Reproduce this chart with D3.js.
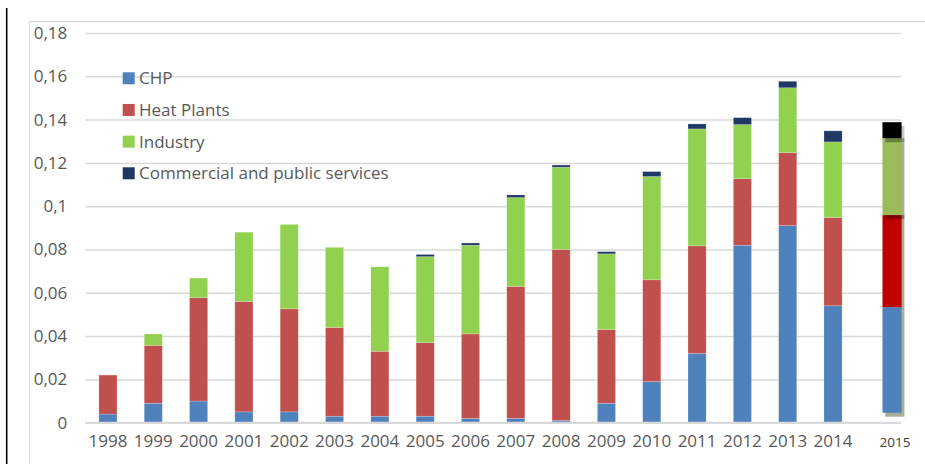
<!DOCTYPE html>
<html>
<head>
<meta charset="utf-8">
<script src="https://cdn.jsdelivr.net/npm/d3@7"></script>
<style>
  html, body { margin: 0; padding: 0; background: #fff; }
  svg { display: block; }
  text { font-family: "Open Sans", "Liberation Sans", sans-serif; }
</style>
</head>
<body>
<svg id="chart" width="925" height="464"></svg>
<script>
// ---- data ----
const years = ["1998","1999","2000","2001","2002","2003","2004","2005","2006","2007","2008","2009","2010","2011","2012","2013","2014"];
const chp        = [0.004, 0.009, 0.010, 0.005, 0.005, 0.003, 0.003, 0.003, 0.002, 0.002, 0.001, 0.009, 0.019, 0.032, 0.082, 0.091, 0.054];
const heatPlants = [0.018, 0.0267, 0.0477, 0.051, 0.0476, 0.041, 0.030, 0.034, 0.039, 0.061, 0.079, 0.034, 0.047, 0.0497, 0.0307, 0.0337, 0.0407];
const industry   = [0, 0.0053, 0.0091, 0.032, 0.039, 0.037, 0.039, 0.0397, 0.041, 0.041, 0.038, 0.035, 0.0477, 0.054, 0.025, 0.030, 0.035];
const commercial = [0, 0, 0, 0, 0, 0, 0, 0.001, 0.001, 0.0012, 0.001, 0.001, 0.0023, 0.0023, 0.0032, 0.003, 0.0051];
// 2015 bar (pasted-in picture): starts slightly above zero
const year2015 = "2015";
const base2015 = 0.0046;
const values2015 = [0.0488, 0.0425, 0.0355, 0.0074]; // CHP, Heat Plants, Industry, Commercial
const seriesNames = ["CHP", "Heat Plants", "Industry", "Commercial and public services"];
const yTicks = [0, 0.02, 0.04, 0.06, 0.08, 0.1, 0.12, 0.14, 0.16, 0.18];
const yTickLabels = ["0", "0,02", "0,04", "0,06", "0,08", "0,1", "0,12", "0,14", "0,16", "0,18"];

// ---- styles ----
const colors = ["#4f81bd", "#c0504d", "#92d050", "#1f3864"];
const colors2015 = ["#4f81bd", "#c00000", "#9bbb59", "#000000"];
const textColor = "#595959";
const gridColor = "#d9d9d9";
const fontSize = 17;

const svg = d3.select("#chart");
const plot = { left: 85.3, right: 901, top: 33, bottom: 422.7 };

const allYears = years.concat([year2015]);
const x = d3.scaleBand().domain(allYears).range([plot.left, plot.right]).paddingInner(0.6).paddingOuter(0.3);
const y = d3.scaleLinear().domain([0, 0.18]).range([plot.bottom, plot.top]);

// outer frame lines
svg.append("line").attr("x1", 6.7).attr("x2", 6.7).attr("y1", 8).attr("y2", 464)
  .attr("stroke", "#000").attr("stroke-width", 1.6);
svg.append("line").attr("x1", 29.3).attr("x2", 29.3).attr("y1", 21.7).attr("y2", 464)
  .attr("stroke", gridColor).attr("stroke-width", 1);
svg.append("line").attr("x1", 29.3).attr("x2", 925).attr("y1", 21.7).attr("y2", 21.7)
  .attr("stroke", gridColor).attr("stroke-width", 1.2);

// gridlines
const yAxis = d3.axisLeft(y).tickValues(yTicks).tickSize(-(plot.right - plot.left))
  .tickFormat((d, i) => yTickLabels[i]).tickPadding(18);
const gy = svg.append("g").attr("transform", `translate(${plot.left},0)`).call(yAxis);
gy.select(".domain").remove();
gy.selectAll(".tick line").attr("stroke", gridColor).attr("stroke-width", 1.5);
gy.selectAll(".tick text").attr("fill", textColor).attr("font-size", fontSize)
  .attr("font-family", "'Open Sans', sans-serif");

// stacked bars
const rows = years.map((yr, i) => ({ year: yr, v: [chp[i], heatPlants[i], industry[i], commercial[i]] }));
const keys = [0, 1, 2, 3];
const stack = d3.stack().keys(keys).value((d, k) => d.v[k]);
const stacked = stack(rows);
stacked.forEach((layer, k) => {
  svg.append("g").selectAll("rect").data(layer.filter(d => d[1] - d[0] > 0)).join("rect")
    .attr("x", d => x(d.data.year))
    .attr("width", x.bandwidth())
    .attr("y", d => y(d[1]))
    .attr("height", d => y(d[0]) - y(d[1]))
    .attr("fill", colors[k])
    .attr("stroke", "#ffffff").attr("stroke-opacity", 0.35).attr("stroke-width", 0.6);
});

// 2015 bar (with drop shadow like the pasted picture)
const off2015 = 13.2;
const bx = x(year2015) + off2015;
const bw = x.bandwidth() + 1;
let acc = base2015;
const segs2015 = values2015.map((v, k) => { const s = { k, y0: acc, y1: acc + v }; acc += v; return s; });
const sdx = 2.8, sdy = 4;
const shadowCols = ["#a9ae99", "#a9ad98", "#a8af93", "#c9c9c9"];
const g15 = svg.append("g");
g15.selectAll("rect.sh").data(segs2015).join("rect").attr("class", "sh")
  .attr("x", bx + sdx).attr("width", bw)
  .attr("y", d => y(d.y1) + sdy).attr("height", d => y(d.y0) - y(d.y1))
  .attr("fill", (d) => shadowCols[d.k]);
g15.selectAll("rect.seg").data(segs2015).join("rect").attr("class", "seg")
  .attr("x", bx).attr("width", bw)
  .attr("y", d => y(d.y1)).attr("height", d => y(d.y0) - y(d.y1))
  .attr("fill", d => colors2015[d.k]);
// shadows of industry and commercial falling on the segment below
g15.selectAll("rect.ov").data(segs2015.filter(d => d.k >= 2)).join("rect").attr("class", "ov")
  .attr("x", bx + sdx).attr("width", bw)
  .attr("y", d => y(d.y0)).attr("height", sdy)
  .attr("fill", "#000").attr("opacity", 0.32);

// x axis baseline
svg.append("line").attr("x1", plot.left).attr("x2", plot.right).attr("y1", y(0)).attr("y2", y(0))
  .attr("stroke", gridColor).attr("stroke-width", 1.8);

// x labels
svg.append("g").selectAll("text").data(years).join("text")
  .attr("x", d => x(d) + x.bandwidth() / 2)
  .attr("y", 447)
  .attr("text-anchor", "middle")
  .attr("fill", textColor)
  .attr("font-size", fontSize)
  .text(d => d);
svg.append("text")
  .attr("x", x(year2015) + off2015 + bw / 2 + 3)
  .attr("y", 447)
  .attr("text-anchor", "middle")
  .attr("fill", "#404040")
  .attr("font-size", 13.5)
  .text(year2015);

// legend
const lg = svg.append("g");
const legendY = d3.scalePoint().domain(seriesNames).range([78.3, 173.3]);
seriesNames.forEach((name, k) => {
  const cy = legendY(name);
  lg.append("rect").attr("x", 122.7).attr("y", cy - 6).attr("width", 12).attr("height", 12).attr("fill", colors[k]);
  lg.append("text").attr("x", 139).attr("y", cy).attr("dy", "0.36em")
    .attr("fill", textColor).attr("font-size", fontSize).text(name);
});
</script>
</body>
</html>
